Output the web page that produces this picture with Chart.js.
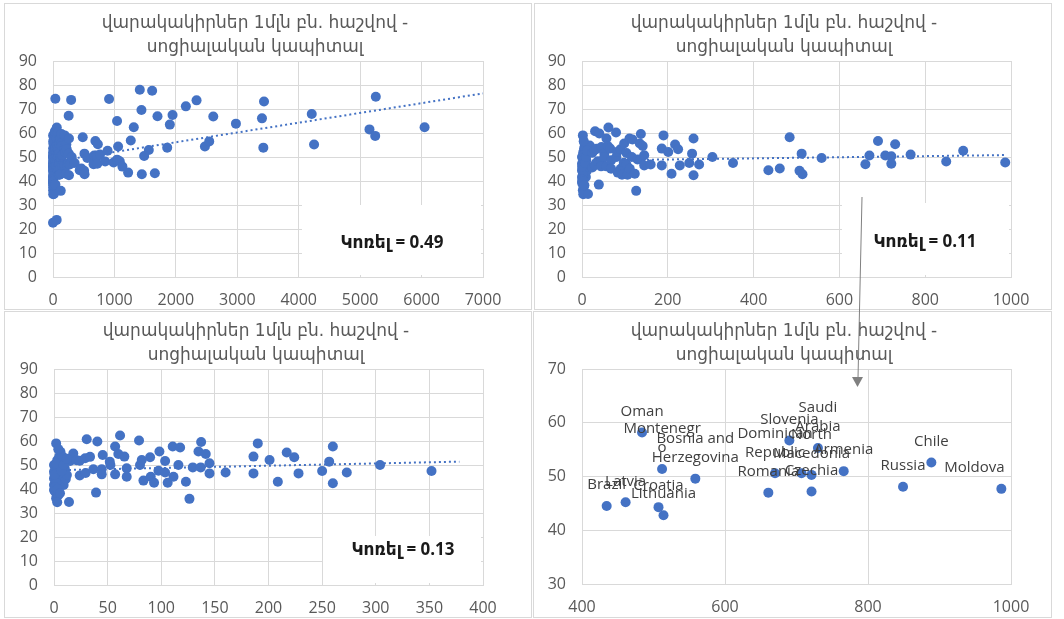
<!DOCTYPE html>
<html>
<head>
<meta charset="utf-8">
<script src="https://cdn.jsdelivr.net/npm/chart.js@4.4.1/dist/chart.umd.min.js"></script>
<style>
  body { margin: 0; background: #fff; width: 1064px; height: 619px; overflow: hidden; position: relative; }
  canvas { position: absolute; outline: 1px solid #d9d9d9; }
  svg { position: absolute; left: 0; top: 0; }
</style>
</head>
<body>
<canvas id="tl" style="left:5px;top:4px"></canvas>
<canvas id="tr" style="left:535px;top:4px"></canvas>
<canvas id="bl" style="left:5px;top:312px"></canvas>
<canvas id="br" style="left:534px;top:312px"></canvas>
<svg width="1064" height="619">
  <line x1="862" y1="197" x2="858" y2="378" stroke="#808080" stroke-width="1"/>
  <polygon points="852,377 863,377 857.5,387" fill="#808080"/>
</svg>
<script>
const titleLines = ["վարակակիրներ 1մլն բն. հաշվով -", "սոցիալական կապիտալ"];
const corrLabel = "Կոռել = ";

// countries with x below 400
const smallPts = [
  [0,50],[0,47.2],[0,44.4],[0,41.7],[0,39.6],[1,38.9],[2,36.1],[2,59],[3,52],[4,49.3],
  [4,37.4],[3,34.5],[5,53.6],[6,51.4],[6,55.5],[6,46.5],[7,43.8],[8,53.5],[9,41.7],[10,48.6],
  [11,44.2],[12,45.8],[15,51.7],[14,34.6],[18,54.8],[21,52],[1,45.5],[2,42.5],[3,48],[1,40.6],
  [0.5,46],[3,40],[2,50.5],[4,56.6],[7,47.5],[9,50],[12,52.6],[5.6,38.2],
  [24,45.6],[24,51.8],[29,52.8],[29.5,46.7],[30.5,60.7],[33.6,53.4],[36.7,48.2],[39.2,38.5],
  [40.4,59.8],[44.5,48.2],[44.5,46.1],[45.4,54.2],[52,51.4],[52.6,50],[57,57.7],[57,46.1],
  [60,54.6],[61.6,62.3],[65.6,53.5],[67.8,48.6],[67.8,45.1],[79.3,60.2],[80.2,50],[81.8,52.1],
  [83.4,43.5],[89.6,53.2],[90.2,45.1],[93.3,42.6],[97.4,47.6],[98.3,55.6],[103.6,51.7],[103.6,46.9],
  [106,42.6],[110.7,57.7],[111.4,45.1],[116,50],[117.6,57.3],[123,43],[126.3,35.9],[129.4,49],
  [134.7,55.6],[136.8,49],[137.2,59.6],[141.5,54.6],[145,50.7],[145,46.5],[160,46.9],[186,53.5],
  [186,46.5],[190,59],[201,52.1],[208.7,43],[217,55.2],[224,53.2],[228,46.5],[250,47.5],
  [256.6,51.4],[260,57.7],[260,42.4],[273,46.9],[304,50],[352,47.5]
];

// countries with x between 400 and 1000 (labelled in the last panel)
const midPts = [
  [434.5,44.5],[461,45.2],[484,58.2],[507,44.3],[512,51.4],[514,42.8],[558.5,49.6],[660.6,47],
  [670,50.6],[690,56.7],[707,50.6],[721,50.3],[721,47.2],[730,55.3],[766,51],[849,48.1],
  [888.6,52.6],[986.5,47.7]
];
const midNames = [
  "Brazil","Latvia","Oman","Croatia","Montenegr\no","Lithuania","Bosnia and\nHerzegovina","Romania",
  "Dominican\nRepublic","Slovenia","","North\nMacedonia","Czechia","Saudi\nArabia","Armenia","Russia",
  "Chile","Moldova"
];

// only in the full chart
const extraPts = [
  [38,74.3],[255,67.2],[295,73.8],[913,74.2],[0,22.6],[60,23.8],[1043,65],[1060,54.4],[1043,48.9],
  [1087,48.2],[1130,46],[1223,43.5],[1266,56.9],[1315,62.4],[1413,78],[1440,69.6],[1446,42.8],
  [1484,50.4],[1560,52.9],[1614,77.6],[1658,43.2],[1701,67],[1859,53.9],[1902,63.5],[1946,67.5],
  [2163,71.1],[2337,73.6],[2473,54.4],[2543,56.5],[2609,66.9],[2978,63.9],[3402,66.1],[3435,73.1],
  [3424,53.9],[4212,67.9],[4250,55.2],[5152,61.5],[5255,75.1],[5245,58.8],[6049,62.4]
];

// trend lines as drawn
const trendAll = [[0,48],[7000,76.5]];
const trend1000 = [[0,48.5],[986.5,50.8]];
const trend400 = [[0,47.8],[378,51.4]];
const corrValues = ["0.49", "0.11", "0.13"];

const BLUE = "#4472C4";
const GRID = "#d9d9d9";
const TXT = "#595959";

const toXY = arr => arr.map(p => ({ x: p[0], y: p[1] }));

const panelText = {
  id: "panelText",
  afterDraw(chart, args, opts) {
    const ctx = chart.ctx;
    ctx.save();
    ctx.fillStyle = TXT;
    ctx.font = "17px 'DejaVu Sans'";
    ctx.textAlign = "center";
    ctx.textBaseline = "middle";
    ctx.fillText(titleLines[0], opts.tx, 20);
    ctx.fillText(titleLines[1], opts.tx, 44);
    if (opts.corr) {
      const b = opts.box;
      ctx.fillStyle = "#fff";
      ctx.fillRect(b[0], b[1], b[2] - b[0], b[3] - b[1]);
      ctx.fillStyle = "#1a1a1a";
      ctx.font = "bold 17px 'Open Sans', 'DejaVu Sans'";
      ctx.fillText(corrLabel + opts.corr, opts.cx, opts.cy);
    }
    ctx.restore();
  }
};

const pointLabels = {
  id: "pointLabels",
  afterDatasetsDraw(chart, args, opts) {
    if (!opts.names) return;
    const ctx = chart.ctx;
    const meta = chart.getDatasetMeta(0);
    ctx.save();
    ctx.fillStyle = "#404040";
    ctx.font = "15px 'Open Sans'";
    ctx.textAlign = "center";
    ctx.textBaseline = "middle";
    meta.data.forEach((pt, i) => {
      const name = opts.names[i];
      if (!name) return;
      const lines = name.split("\n");
      const dx = opts.shift[name] || 0;
      lines.forEach((ln, k) => {
        const y = pt.y - 21 - (lines.length - 1 - k) * 19;
        ctx.fillText(ln, pt.x + dx, y);
      });
    });
    ctx.restore();
  }
};

function makePanel(id, g, xs, ys, points, trend, extra) {
  const el = document.getElementById(id);
  el.width = g.w; el.height = g.h;
  el.style.width = g.w + "px"; el.style.height = g.h + "px";
  const datasets = [{
    data: toXY(points),
    backgroundColor: BLUE,
    pointRadius: 5,
    pointHoverRadius: 5,
    pointBorderWidth: 0,
    clip: false,
    order: 1
  }];
  if (trend) {
    datasets.push({
      data: toXY(trend),
      showLine: true,
      borderColor: BLUE,
      borderWidth: 2,
      borderDash: [2, 3],
      pointRadius: 0,
      fill: false,
      order: 2
    });
  }
  const font = { family: "'Open Sans'", size: 16 };
  const plain = v => String(v);
  return new Chart(el, {
    type: "scatter",
    data: { datasets },
    plugins: [panelText, pointLabels],
    options: {
      responsive: false,
      animation: false,
      events: [],
      layout: {
        padding: { left: g.L - 40, right: g.w - g.R, top: g.T, bottom: g.h - g.B - 30 }
      },
      scales: {
        x: {
          type: "linear", min: xs[0], max: xs[1],
          ticks: { stepSize: xs[2], padding: 14, color: TXT, font, callback: plain },
          grid: { color: GRID, drawTicks: false },
          border: { color: GRID },
          afterFit(s) { s.height = 30; }
        },
        y: {
          min: ys[0], max: ys[1],
          ticks: { stepSize: ys[2], padding: 16, color: TXT, font, callback: plain },
          grid: { color: GRID, drawTicks: false },
          border: { color: GRID },
          afterFit(s) { s.width = 40; }
        }
      },
      plugins: {
        legend: { display: false },
        tooltip: { enabled: false },
        panelText: extra.text,
        pointLabels: extra.labels || {}
      }
    }
  });
}

const allPts = smallPts.concat(midPts, extraPts);
const upTo1000 = smallPts.concat(midPts);

makePanel("tl", { w: 526, h: 305, L: 48, R: 478, T: 57, B: 273 },
  [0, 7000, 1000], [0, 90, 10], allPts, trendAll,
  { text: { tx: 250, corr: corrValues[0], box: [297, 201, 476, 271], cx: 387, cy: 239 } });

makePanel("tr", { w: 516, h: 305, L: 47, R: 476, T: 57, B: 273 },
  [0, 1000, 200], [0, 90, 10], upTo1000, trend1000,
  { text: { tx: 249, corr: corrValues[1], box: [307, 199, 474, 271], cx: 390, cy: 238 } });

makePanel("bl", { w: 526, h: 305, L: 49, R: 478, T: 57, B: 273 },
  [0, 400, 50], [0, 90, 10], smallPts, trend400,
  { text: { tx: 251, corr: corrValues[2], box: [318, 224, 476, 271], cx: 398, cy: 238 } });

makePanel("br", { w: 517, h: 305, L: 48, R: 477, T: 57, B: 272 },
  [400, 1000, 200], [30, 70, 10], midPts, null,
  { text: { tx: 250 }, labels: { names: midNames, shift: { Moldova: -27 } } });
</script>
</body>
</html>
